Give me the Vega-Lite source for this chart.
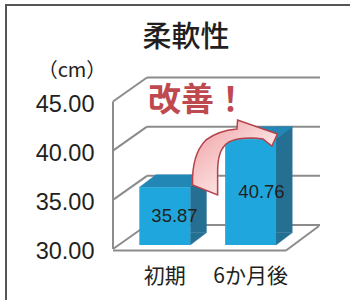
{
  "$schema": "https://vega.github.io/schema/vega-lite/v6.json",
  "width": 350,
  "height": 300,
  "autosize": {"type": "none"},
  "padding": {"left": 6, "top": 5, "right": 0, "bottom": 0},
  "background": "white",
  "view": {"stroke": "#555555", "strokeWidth": 2, "fill": "white"},
  "title": {
    "text": "柔軟性",
    "anchor": "middle",
    "frame": "group",
    "orient": "top",
    "offset": -62,
    "baseline": "middle",
    "dx": 5,
    "font": "Noto Sans CJK JP",
    "fontSize": 29,
    "fontWeight": 500,
    "color": "#231f20"
  },
  "resolve": {"scale": {"x": "independent", "y": "independent"}},
  "layer": [
    {
      "data": {"values": [{"tick": 30}, {"tick": 35}, {"tick": 40}, {"tick": 45}]},
      "encoding": {
        "x": {"datum": 0, "type": "quantitative", "scale": {"domain": [0, 1], "range": [107, 280], "nice": false, "zero": false}, "axis": null},
        "y": {"field": "tick", "type": "quantitative", "scale": {"domain": [30, 45], "range": [244, 96.5], "nice": false, "zero": false}, "axis": null}
      },
      "layer": [
        {
          "mark": {"type": "rule", "color": "#8c8c8c", "strokeWidth": 2, "xOffset": 34, "x2Offset": 34, "yOffset": -24},
          "encoding": {"x2": {"datum": 1}}
        },
        {
          "mark": {"type": "rule", "color": "#8c8c8c", "strokeWidth": 2, "x2Offset": 34, "y2Offset": -24},
          "encoding": {"x2": {"datum": 0}, "y2": {"field": "tick"}}
        }
      ]
    },
    {
      "data": {"values": [{"edge": "frame"}]},
      "encoding": {
        "x": {"datum": 0, "type": "quantitative", "scale": {"domain": [0, 1], "range": [107, 280], "nice": false, "zero": false}, "axis": null},
        "y": {"datum": 30, "type": "quantitative", "scale": {"domain": [30, 45], "range": [244, 96.5], "nice": false, "zero": false}, "axis": null}
      },
      "layer": [
        {
          "mark": {"type": "rule", "color": "#8c8c8c", "strokeWidth": 2},
          "encoding": {"y2": {"datum": 45}}
        },
        {
          "mark": {"type": "rule", "color": "#8c8c8c", "strokeWidth": 2, "yOffset": 1.5},
          "encoding": {"x2": {"datum": 1}}
        },
        {
          "mark": {"type": "rule", "color": "#8c8c8c", "strokeWidth": 2, "yOffset": 1.5, "x2Offset": 33, "y2Offset": -23},
          "encoding": {"x": {"datum": 1}, "x2": {"datum": 1}, "y2": {"datum": 30}}
        }
      ]
    },
    {
      "data": {"values": [{"period": "初期", "value": 35.87}, {"period": "6か月後", "value": 40.76}]},
      "encoding": {
        "x": {
          "field": "period",
          "type": "nominal",
          "scale": {"domain": ["初期", "6か月後"], "range": [107, 281], "paddingInner": 0.406, "paddingOuter": 0.217, "align": 0.707},
          "axis": {
            "orient": "bottom",
            "title": null,
            "domain": false,
            "ticks": false,
            "grid": false,
            "offset": -55,
            "labelPadding": 15,
            "labelAngle": 0,
            "labelFont": "Noto Sans CJK JP",
            "labelFontSize": 21,
            "labelColor": "#231f20"
          }
        },
        "y": {
          "field": "value",
          "type": "quantitative",
          "scale": {"domain": [30, 45], "range": [244, 96.5], "nice": false, "zero": false},
          "axis": {
            "orient": "left",
            "values": [30, 35, 40, 45],
            "format": ".2f",
            "domain": false,
            "ticks": false,
            "grid": false,
            "offset": -88,
            "labelPadding": 0,
            "labelOffset": 2.5,
            "labelFont": "Liberation Sans",
            "labelFontSize": 23.5,
            "labelColor": "#231f20",
            "title": "（cm）",
            "titleAngle": 0,
            "titleX": -22.5,
            "titleY": 65,
            "titleAlign": "center",
            "titleBaseline": "middle",
            "titleFont": "Noto Sans CJK JP",
            "titleFontSize": 20,
            "titleFontWeight": "normal",
            "titleColor": "#231f20"
          }
        }
      },
      "layer": [
        {
          "mark": {"type": "bar", "color": "#246f92", "width": 16.5, "xOffset": 33.6, "yOffset": -16.5, "y2Offset": -16.5},
          "encoding": {"y2": {"datum": 30}}
        },
        {
          "mark": {"type": "point", "shape": "M-1,-0.758L1,-0.758L-1,0.758Z", "size": 272.25, "filled": true, "opacity": 1, "color": "#246f92", "stroke": "#246f92", "strokeWidth": 0.5, "xOffset": 33.6, "yOffset": -10.25},
          "encoding": {"y": {"datum": 30}}
        },
        {
          "mark": {"type": "point", "shape": "M-1,0.186L0.509,0.186L1,-0.186L-0.509,-0.186Z", "size": 4516, "filled": true, "opacity": 1, "color": "#2387b5", "stroke": "#2387b5", "strokeWidth": 0.5, "xOffset": 8.25, "yOffset": -10.25}
        },
        {
          "mark": {"type": "bar", "color": "#1fa7dd", "yOffset": -4, "y2Offset": -4},
          "encoding": {"y2": {"datum": 30}}
        }
      ]
    },
    {
      "data": {"values": [{"note": "改善！"}]},
      "encoding": {
        "x": {"datum": "6か月後", "type": "nominal", "scale": {"domain": ["初期", "6か月後"], "range": [107, 281], "paddingInner": 0.406, "paddingOuter": 0.217, "align": 0.707}, "axis": null},
        "y": {"datum": 40, "type": "quantitative", "scale": {"domain": [30, 45], "range": [244, 96.5], "nice": false, "zero": false}, "axis": null}
      },
      "layer": [
        {
          "mark": {
            "type": "point",
            "shape": "M-0.984,0.640C-1.0,0.174,-0.907,-0.174,-0.674,-0.407C-0.465,-0.570,-0.209,-0.640,0.047,-0.663L0.063,-0.872L0.988,-0.547L0.860,-0.267L0.651,-0.430C0.372,-0.477,0.047,-0.453,-0.140,-0.360C-0.349,-0.221,-0.402,0.012,-0.402,0.337L-0.402,0.872Z",
            "size": 7396,
            "filled": true,
            "opacity": 1,
            "fill": {"gradient": "linear", "x1": 0, "y1": 0, "x2": 1, "y2": 1, "stops": [{"offset": 0, "color": "#f09ca0"}, {"offset": 0.6, "color": "#fbdede"}, {"offset": 1, "color": "#fff4f4"}]},
            "stroke": "#b5424a",
            "strokeWidth": 1.5,
            "xOffset": -26.6,
            "yOffset": 6.8
          }
        },
        {
          "mark": {"type": "text", "font": "Noto Sans CJK JP", "fontSize": 33, "fontWeight": "bold", "color": "#be4a50", "align": "center", "baseline": "middle", "xOffset": -64, "yOffset": -50},
          "encoding": {"text": {"field": "note"}}
        }
      ]
    },
    {
      "data": {"values": [{"period": "初期", "value": 35.87}, {"period": "6か月後", "value": 40.76}]},
      "mark": {"type": "text", "font": "Liberation Sans", "fontSize": 18.5, "color": "#231f20", "align": "center", "baseline": "middle", "yOffset": -4},
      "encoding": {
        "x": {"field": "period", "type": "nominal", "scale": {"domain": ["初期", "6か月後"], "range": [107, 281], "paddingInner": 0.406, "paddingOuter": 0.217, "align": 0.707}, "axis": null},
        "y": {"field": "value", "type": "quantitative", "scale": {"domain": [30, 60], "range": [244, 96.5], "nice": false, "zero": false}, "axis": null},
        "text": {"field": "value", "type": "quantitative", "format": ".2f"}
      }
    }
  ]
}
